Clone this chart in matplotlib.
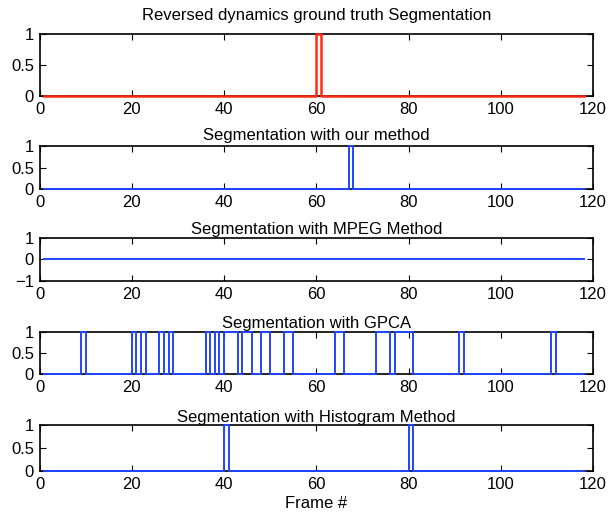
import numpy as np
import matplotlib
matplotlib.use("Agg")
import matplotlib.pyplot as plt

plt.rcParams['font.family'] = ['Liberation Sans', 'DejaVu Sans']

frames = np.arange(1, 119)

# frames marked as a segment boundary (value 1) for each method
truth_frames = [60]
ours_frames = [67]
mpeg_frames = []
gpca_frames = [9, 20, 22, 26, 28, 36, 38, 40, 41, 42, 44, 45, 48, 49, 53, 54,
               64, 65, 73, 74, 75, 77, 78, 79, 80, 91, 111]
hist_frames = [40, 80]

titles = ["Reversed dynamics ground truth Segmentation",
          "Segmentation with our method",
          "Segmentation with MPEG Method",
          "Segmentation with GPCA",
          "Segmentation with Histogram Method"]


def to_signal(marked):
    sig = np.zeros(len(frames))
    for f in marked:
        sig[frames == f] = 1
    return sig


W, H = 609, 520
fig = plt.figure(figsize=(W / 100, H / 100), dpi=100)

# (top, bottom) of each panel in pixels
boxes = [(34, 96), (146, 189), (238, 281), (332, 374), (425, 471)]
left, right = 39.5, 593
title_pads = [10, 4, 3, 3, 2]

series = [truth_frames, ours_frames, mpeg_frames, gpca_frames, hist_frames]
colors = ['#ff2a10', '#1f45ff', '#1f45ff', '#1f45ff', '#1f45ff']
widths = [1.8, 1.4, 1.4, 1.4, 1.4]

for i, (top, bot) in enumerate(boxes):
    ax = fig.add_axes([left / W, 1 - bot / H, (right - left) / W, (bot - top) / H])
    ax.plot(frames, to_signal(series[i]), drawstyle='steps-post',
            color=colors[i], lw=widths[i], clip_on=False, zorder=5)
    ax.set_xlim(0, 120)
    ax.set_xticks(range(0, 121, 20))
    if i == 2:
        ax.set_ylim(-1, 1)
        ax.set_yticks([-1, 0, 1])
    else:
        ax.set_ylim(0, 1)
        ax.set_yticks([0, 0.5, 1])
        ax.set_yticklabels(['0', '0.5', '1'])
    ax.tick_params(direction='in', top=True, right=True, labelsize=12,
                   length=4, width=0.8)
    ax.tick_params(axis='x', pad=4)
    ax.tick_params(axis='y', pad=4)
    for s in ax.spines.values():
        s.set_linewidth(1.2)
        s.set_zorder(2)
    ax.set_title(titles[i], fontsize=12, pad=title_pads[i])

ax.set_xlabel("Frame #", fontsize=12, labelpad=3)

fig.savefig("out.png", dpi=100)
